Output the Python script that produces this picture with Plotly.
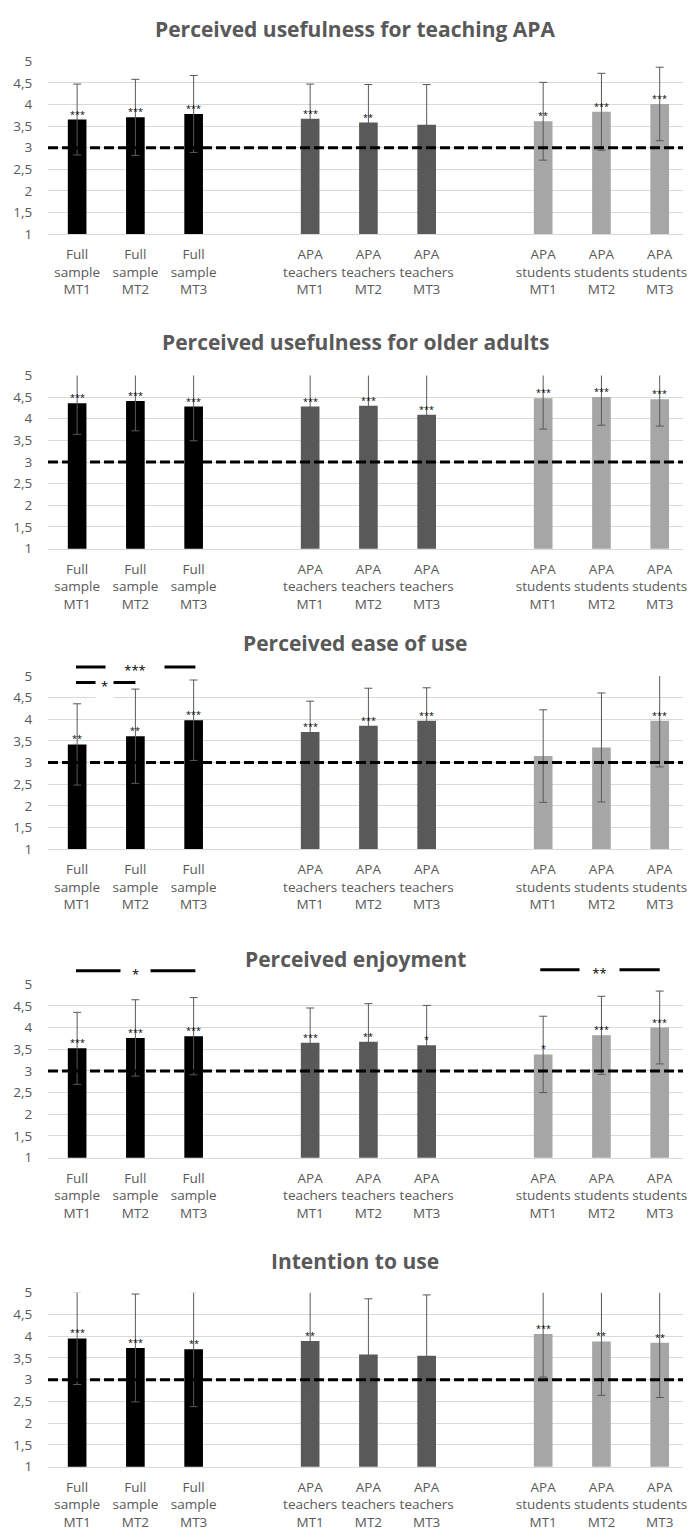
import plotly.graph_objects as go

# ---------------- data ----------------
categories = [
    "Full<br>sample<br>MT1", "Full<br>sample<br>MT2", "Full<br>sample<br>MT3", " ",
    "APA<br>teachers<br>MT1", "APA<br>teachers<br>MT2", "APA<br>teachers<br>MT3", "  ",
    "APA<br>students<br>MT1", "APA<br>students<br>MT2", "APA<br>students<br>MT3",
]
group_colors = ["#000000", "#000000", "#000000", "white",
                "#595959", "#595959", "#595959", "white",
                "#a6a6a6", "#a6a6a6", "#a6a6a6"]

titles = [
    "Perceived usefulness for teaching APA",
    "Perceived usefulness for older adults",
    "Perceived ease of use",
    "Perceived enjoyment",
    "Intention to use",
]

means_teaching = [3.65, 3.70, 3.78, None, 3.67, 3.58, 3.53, None, 3.61, 3.83, 4.01]
sd_teaching = [0.82, 0.88, 0.89, None, 0.80, 0.88, 0.93, None, 0.90, 0.89, 0.85]
stars_teaching = ["***", "***", "***", "", "***", "**", "", "", "**", "***", "***"]

means_older = [4.36, 4.41, 4.28, None, 4.28, 4.30, 4.09, None, 4.47, 4.50, 4.45]
sd_older = [0.72, 0.69, 0.79, None, 0.85, 0.85, 0.95, None, 0.71, 0.65, 0.62]
stars_older = ["***", "***", "***", "", "***", "***", "***", "", "***", "***", "***"]

means_ease = [3.42, 3.61, 3.98, None, 3.71, 3.85, 3.97, None, 3.15, 3.35, 3.97]
sd_ease = [0.94, 1.09, 0.93, None, 0.71, 0.87, 0.76, None, 1.07, 1.26, 1.07]
stars_ease = ["**", "**", "***", "", "***", "***", "***", "", "", "", "***"]

means_enjoy = [3.52, 3.76, 3.80, None, 3.65, 3.67, 3.59, None, 3.38, 3.82, 4.00]
sd_enjoy = [0.83, 0.88, 0.89, None, 0.80, 0.88, 0.92, None, 0.88, 0.90, 0.84]
stars_enjoy = ["***", "***", "***", "", "***", "**", "*", "", "*", "***", "***"]

means_intent = [3.95, 3.73, 3.70, None, 3.89, 3.58, 3.55, None, 4.05, 3.88, 3.85]
sd_intent = [1.06, 1.24, 1.32, None, 1.20, 1.28, 1.40, None, 0.99, 1.24, 1.26]
stars_intent = ["***", "***", "**", "", "**", "", "", "", "***", "**", "**"]

panel_means = [means_teaching, means_older, means_ease, means_enjoy, means_intent]
panel_sds = [sd_teaching, sd_older, sd_ease, sd_enjoy, sd_intent]
panel_stars = [stars_teaching, stars_older, stars_ease, stars_enjoy, stars_intent]

# significance brackets: (panel, from-index, to-index, level, label, star index, gap px, box height)
brackets = [
    (2, -0.02, 2.03, 5.21, "***", 1.0, 58, 17),
    (2, -0.02, 1.0, 4.85, "*", 0.47, 17, 24),
    (3, -0.02, 2.03, 5.31, "*", 1.0, 29, 24),
    (3, 7.95, 10.0, 5.33, "**", 8.97, 39, 24),
]

y_min, y_max = 1, 5
y_ticks = [1, 1.5, 2, 2.5, 3, 3.5, 4, 4.5, 5]
y_ticktext = ["1", "1,5", "2", "2,5", "3", "3,5", "4", "4,5", "5"]
reference_level = 3

# ---------------- layout geometry ----------------
W, H = 679, 1523
panel_top_px = [44.7, 362.7, 667.0, 978.7, 1291.0]
panel_bot_px = [219.7, 538.0, 842.0, 1154.3, 1467.0]
title_px = [12, 329, 633.7, 953.7, 1258.7]
ML, MR = 40, 0
X_RANGE = [-0.5, 10.4]

FONT = "Open Sans"
GREY = "#595959"

fig = go.Figure()
annotations = []
shapes = []

for i in range(5):
    n = "" if i == 0 else str(i + 1)
    xa, ya = "x" + n, "y" + n
    fig.add_trace(go.Bar(
        x=categories, y=panel_means[i],
        marker=dict(color=group_colors, line=dict(width=0)),
        width=0.32,
        error_y=dict(type="data", array=panel_sds[i], visible=True,
                     color=GREY, thickness=1, width=4),
        xaxis=xa, yaxis=ya, showlegend=False, hoverinfo="skip",
    ))
    dom = [1 - panel_bot_px[i] / H, 1 - panel_top_px[i] / H]
    fig.update_layout(**{
        "xaxis" + n: dict(
            domain=[0, 1], anchor=ya, type="category",
            categoryorder="array", categoryarray=categories,
            range=X_RANGE,
            showgrid=False, showline=True, linecolor="#d9d9d9", linewidth=1,
            ticks="outside", ticklen=8, tickcolor="rgba(0,0,0,0)",
            tickfont=dict(family=FONT, size=13.5, color=GREY),
            tickangle=0, fixedrange=True,
        ),
        "yaxis" + n: dict(
            domain=dom, anchor=xa, range=[y_min, y_max],
            tickvals=y_ticks, ticktext=y_ticktext,
            showgrid=True, gridcolor="#d9d9d9", gridwidth=1,
            zeroline=False, showline=False,
            ticks="outside", ticklen=12, tickcolor="rgba(0,0,0,0)",
            tickfont=dict(family=FONT, size=13.5, color=GREY),
            fixedrange=True,
        ),
    })
    # dashed reference line at 3
    shapes.append(dict(type="line", xref=xa + " domain", x0=0, x1=1,
                       yref=ya, y0=reference_level, y1=reference_level,
                       line=dict(color="black", width=3, dash="10px,4px"),
                       layer="above"))
    # stars above bars
    for c, m, s in zip(categories, panel_means[i], panel_stars[i]):
        if m is None or not s:
            continue
        annotations.append(dict(x=c, y=m, xref=xa, yref=ya, text=s,
                                showarrow=False, yanchor="bottom", yshift=-3,
                                font=dict(family=FONT, size=9, color="black")))
    # title
    annotations.append(dict(x=(349 - ML) / (W - ML - MR), y=1 - title_px[i] / H,
                            xref="paper", yref="paper",
                            text="<b>" + titles[i] + "</b>", showarrow=False,
                            xanchor="center", yanchor="middle",
                            font=dict(family=FONT, size=21, color=GREY)))

for (p, x0, x1, lvl, lab, sx, gap, bh) in brackets:
    n = "" if p == 0 else str(p + 1)
    xa, ya = "x" + n, "y" + n
    yd = (lvl - y_min) / (y_max - y_min)
    shapes.append(dict(type="line", xref=xa, x0=x0, x1=x1,
                       yref=ya + " domain", y0=yd, y1=yd,
                       line=dict(color="black", width=3), layer="above"))
    annotations.append(dict(x=sx, y=yd, xref=xa, yref=ya + " domain",
                            text=lab, showarrow=False, yanchor="top", yshift=7,
                            valign="top", width=gap, height=bh, borderpad=0,
                            bgcolor="white",
                            font=dict(family=FONT, size=13, color="black")))

fig.update_layout(
    width=W, height=H,
    margin=dict(l=ML, r=MR, t=0, b=0),
    paper_bgcolor="white", plot_bgcolor="white",
    shapes=shapes, annotations=annotations,
    font=dict(family=FONT, color=GREY),
)

fig.write_html("out.html")
